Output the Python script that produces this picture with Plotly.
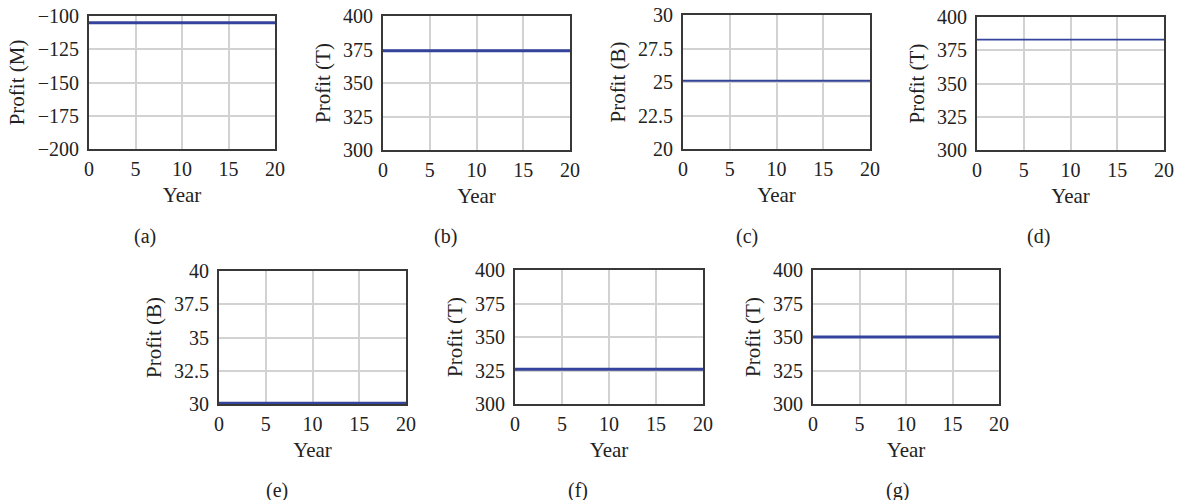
import plotly.graph_objects as go

# ---- data ----
years = [0, 20]
profit_a = [-105, -105]
profit_b = [374, 374]
profit_c = [25.1, 25.1]
profit_d = [383, 383]
profit_e = [30.05, 30.05]
profit_f = [326, 326]
profit_g = [350, 350]

panel_labels = ["(a)", "(b)", "(c)", "(d)", "(e)", "(f)", "(g)"]
y_titles = ["Profit (M)", "Profit (T)", "Profit (B)", "Profit (T)", "Profit (B)", "Profit (T)", "Profit (T)"]
y_ranges = [[-200, -100], [300, 400], [20, 30], [300, 400], [30, 40], [300, 400], [300, 400]]
y_ticks = [
    [-200, -175, -150, -125, -100],
    [300, 325, 350, 375, 400],
    [20, 22.5, 25, 27.5, 30],
    [300, 325, 350, 375, 400],
    [30, 32.5, 35, 37.5, 40],
    [300, 325, 350, 375, 400],
    [300, 325, 350, 375, 400],
]
y_ticktext = [
    ["\u2212200", "\u2212175", "\u2212150", "\u2212125", "\u2212100"],
    ["300", "325", "350", "375", "400"],
    ["20", "22.5", "25", "27.5", "30"],
    ["300", "325", "350", "375", "400"],
    ["30", "32.5", "35", "37.5", "40"],
    ["300", "325", "350", "375", "400"],
    ["300", "325", "350", "375", "400"],
]
x_ticks = [0, 5, 10, 15, 20]
series = [profit_a, profit_b, profit_c, profit_d, profit_e, profit_f, profit_g]

# ---- layout (target pixel boxes) ----
W, H = 1178, 500
boxes = [  # left, right, top, bottom in px
    (89, 275, 16, 149),
    (383, 570, 16, 150),
    (683, 870, 15, 149),
    (977, 1164, 17, 150),
    (219, 406, 271, 404),
    (515, 703, 270, 404),
    (813, 999, 270, 404),
]
line_widths = [3, 3, 2, 1.6, 3, 3, 3]
caption_pos = [(145, 236), (445, 236), (747, 236), (1038, 236), (277, 490), (578, 490), (897, 490)]

FONT = "Liberation Serif, DejaVu Serif, serif"
TXT = "#222222"
LINE_COLOR = "#34449c"

fig = go.Figure()
layout = dict(
    width=W, height=H,
    margin=dict(l=0, r=0, t=0, b=0),
    paper_bgcolor="white", plot_bgcolor="white",
    showlegend=False,
    font=dict(family=FONT, size=20, color=TXT),
)
annotations = []
for i, (vals, box) in enumerate(zip(series, boxes)):
    n = "" if i == 0 else str(i + 1)
    fig.add_trace(go.Scatter(
        x=years, y=vals, mode="lines",
        line=dict(color=LINE_COLOR, width=line_widths[i]),
        xaxis="x" + n, yaxis="y" + n, hoverinfo="skip",
    ))
    l, r, t, b = box
    layout["xaxis" + n] = dict(
        domain=[l / W, r / W], anchor="y" + n, range=[0, 20],
        tickvals=x_ticks, ticks="", showgrid=True, gridcolor="#d2d2d2", gridwidth=2,
        showline=True, linecolor="#383838", linewidth=2, mirror=True,
        zeroline=False, automargin=False, ticklabelstandoff=1, ticklabeloverflow="allow",
        tickfont=dict(size=20, family=FONT, color=TXT),
        title=dict(text="Year", font=dict(size=21, family=FONT, color=TXT), standoff=8),
    )
    layout["yaxis" + n] = dict(
        domain=[1 - b / H, 1 - t / H], anchor="x" + n, range=y_ranges[i],
        tickvals=y_ticks[i], ticktext=y_ticktext[i], ticks="",
        showgrid=True, gridcolor="#d2d2d2", gridwidth=2,
        showline=True, linecolor="#383838", linewidth=2, mirror=True,
        zeroline=False, automargin=False, ticklabelstandoff=4, ticklabeloverflow="allow",
        tickfont=dict(size=20, family=FONT, color=TXT),
        title=dict(text=y_titles[i], font=dict(size=21, family=FONT, color=TXT), standoff=7),
    )
    cx, cy = caption_pos[i]
    annotations.append(dict(
        text=panel_labels[i], x=cx / W, y=1 - cy / H, xref="paper", yref="paper",
        showarrow=False, font=dict(size=20, family=FONT, color=TXT),
        xanchor="center", yanchor="middle",
    ))
layout["annotations"] = annotations
fig.update_layout(**layout)
fig.write_html("out.html", config={"displayModeBar": False},
               post_script="document.body.style.margin='0';document.body.style.overflow='hidden';")
